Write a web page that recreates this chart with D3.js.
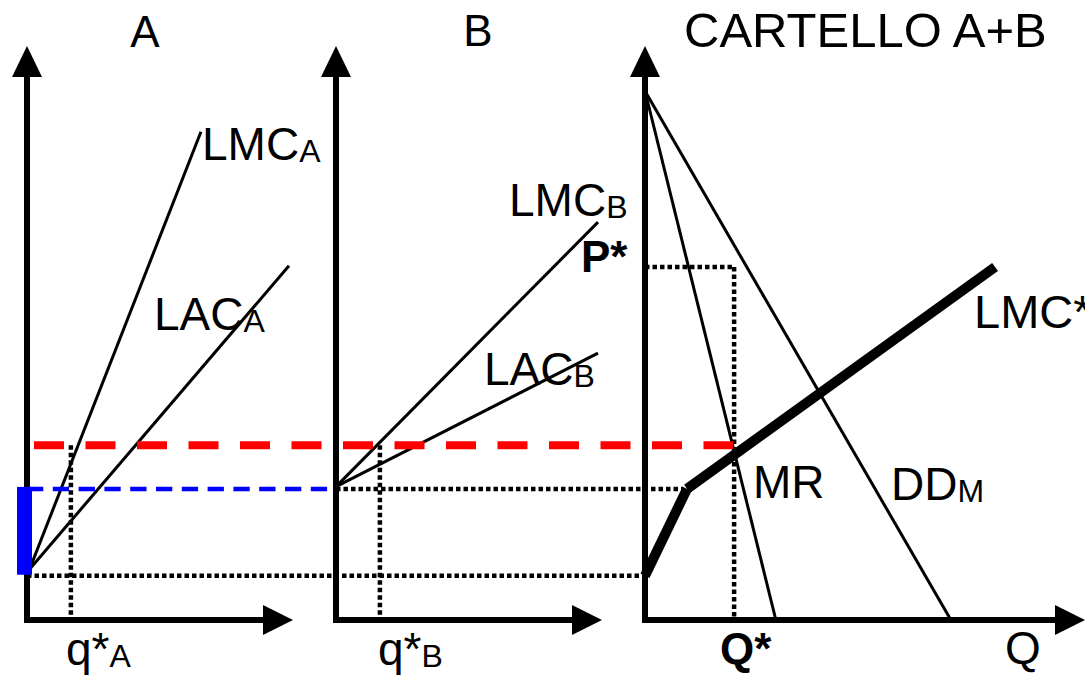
<!DOCTYPE html>
<html>
<head>
<meta charset="utf-8">
<script src="https://cdn.jsdelivr.net/npm/d3@7"></script>
<style>
  body { margin: 0; background: #fff; }
  svg { display: block; font-family: "Liberation Sans", Arial, sans-serif; }
</style>
</head>
<body>
<svg id="drawing_region"></svg>
<script>
// price levels (y units) and quantities (x units)
const panelTitles = ['A', 'B', 'CARTELLO A+B'];
const priceFloor = 7.7;     // LMC_A intercept
const priceKink = 22.8;     // LMC_B intercept / kink of LMC*
const priceMR = 30.4;       // MR = LMC* level (red)
const priceStar = 61.4;     // P*
const qStarA = 16.5;
const qStarB = 16.5;
const qStar = 33.5;

const lmcA = [[0, 7.7], [65.4, 84.9]];
const lacA = [[0, 8.3], [98.5, 61.6]];
const lmcB = [[0, 23.2], [98.5, 69.2]];
const lacB = [[0, 23.2], [98.5, 46.4]];
const mrC = [[0, 92], [49.2, 0]];
const ddC = [[0, 92], [115, 0]];
const lmcStar1 = [[0, 7.7], [15.8, 22.8]];
const lmcStar2 = [[15.8, 22.8], [131.6, 61.4]];

const width = 1085, height = 676;
const svg = d3.select('#drawing_region')
    .attr('width', width)
    .attr('height', height);

const yscale = d3.scaleLinear().domain([0, 100]).range([620, 45]);
const k = 2.66; // px per quantity unit, same in all panels
const xA = d3.scaleLinear().domain([0, 100]).range([27, 27 + 100 * k]);
const xB = d3.scaleLinear().domain([0, 100]).range([336, 336 + 100 * k]);
const xC = d3.scaleLinear().domain([0, 165]).range([645, 645 + 165 * k]);

const line = (xs) => d3.line().x(d => xs(d[0])).y(d => yscale(d[1]));

// dotted guides
const dotted = (x1, y1, x2, y2) => svg.append('line')
    .attr('x1', x1).attr('y1', y1).attr('x2', x2).attr('y2', y2)
    .attr('stroke', '#000').attr('stroke-width', 4.5)
    .attr('stroke-dasharray', '4.5,3');

dotted(xA(0), yscale(priceFloor), xC(0), yscale(priceFloor));
dotted(xB(0), yscale(priceKink), xC(14.5), yscale(priceKink));
dotted(xA(qStarA), yscale(priceMR), xA(qStarA), yscale(0));
dotted(xB(qStarB), yscale(priceMR), xB(qStarB), yscale(0));
dotted(xC(0), yscale(priceStar), xC(qStar), yscale(priceStar));
dotted(xC(qStar), yscale(priceStar), xC(qStar), yscale(0));

// cost / demand curves
const thin = (data, xs, w) => svg.append('path')
    .attr('d', line(xs)(data))
    .attr('fill', 'none').attr('stroke', '#000')
    .attr('stroke-width', w || 3);

thin(lmcA, xA); thin(lacA, xA);
thin(lmcB, xB); thin(lacB, xB);
thin(mrC, xC); thin(ddC, xC);
thin(lmcStar1, xC, 10); thin(lmcStar2, xC, 10);

// red dashed MR level
svg.append('line')
    .attr('x1', 34).attr('x2', xC(qStar) - 1)
    .attr('y1', yscale(priceMR)).attr('y2', yscale(priceMR))
    .attr('stroke', '#ff0000').attr('stroke-width', 8)
    .attr('stroke-dasharray', '30,21.5');

// axes with arrows
function drawAxes(xs, xEnd) {
    const x0 = xs(0), y0 = yscale(0);
    svg.append('path')
        .attr('d', `M${x0},76 L${x0},${y0} L${xEnd - 29},${y0}`)
        .attr('fill', 'none').attr('stroke', '#000')
        .attr('stroke-width', 6).attr('stroke-linejoin', 'miter');
    svg.append('path')
        .attr('d', `M${x0},46 L${x0 - 15},77 L${x0 + 15},77 Z`)
        .attr('fill', '#000');
    svg.append('path')
        .attr('d', `M${xEnd},${y0} L${xEnd - 30},${y0 - 15} L${xEnd - 30},${y0 + 15} Z`)
        .attr('fill', '#000');
}
drawAxes(xA, 293);
drawAxes(xB, 602);
drawAxes(xC, 1085);

// blue bar and dashed line on top of panel A axis
svg.append('rect')
    .attr('x', xA(0) - 10).attr('width', 15)
    .attr('y', yscale(priceKink) - 2)
    .attr('height', yscale(priceFloor) - yscale(priceKink) + 1)
    .attr('fill', '#0000ff');

svg.append('line')
    .attr('x1', xA(0)).attr('x2', xB(0) - 3)
    .attr('y1', yscale(priceKink)).attr('y2', yscale(priceKink))
    .attr('stroke', '#0000ff').attr('stroke-width', 4.5)
    .attr('stroke-dasharray', '16.3,9.5');

// titles
svg.append('text').attr('x', 145).attr('y', 47).attr('text-anchor', 'middle')
    .attr('font-size', 44).text(panelTitles[0]);
svg.append('text').attr('x', 478).attr('y', 46).attr('text-anchor', 'middle')
    .attr('font-size', 44).text(panelTitles[1]);
svg.append('text').attr('x', 684).attr('y', 47)
    .attr('font-size', 49).text(panelTitles[2]);

// labels with subscripts
function label(x, y, main, sub, opts) {
    opts = opts || {};
    const t = svg.append('text').attr('x', x).attr('y', y)
        .attr('font-size', opts.size || 46)
        .attr('font-weight', opts.bold ? 'bold' : 'normal');
    t.append('tspan').text(main);
    if (sub) {
        t.append('tspan').attr('font-size', opts.subSize || 32)
            .attr('dy', 2).text(sub);
    }
    return t;
}
label(202, 160, 'LMC', 'A');
label(154, 330, 'LAC', 'A');
label(509, 216, 'LMC', 'B');
label(484, 385, 'LAC', 'B');
label(581, 272, 'P*', null, {bold: true, size: 44});
label(974, 328, 'LMC*', null, {size: 47});
label(753, 498, 'MR', null);
label(891, 500, 'DD', 'M');
label(66, 665, 'q*', 'A');
label(378, 665, 'q*', 'B');
label(720, 664, 'Q*', null, {bold: true, size: 44});
label(1005, 664, 'Q', null);
</script>
</body>
</html>
